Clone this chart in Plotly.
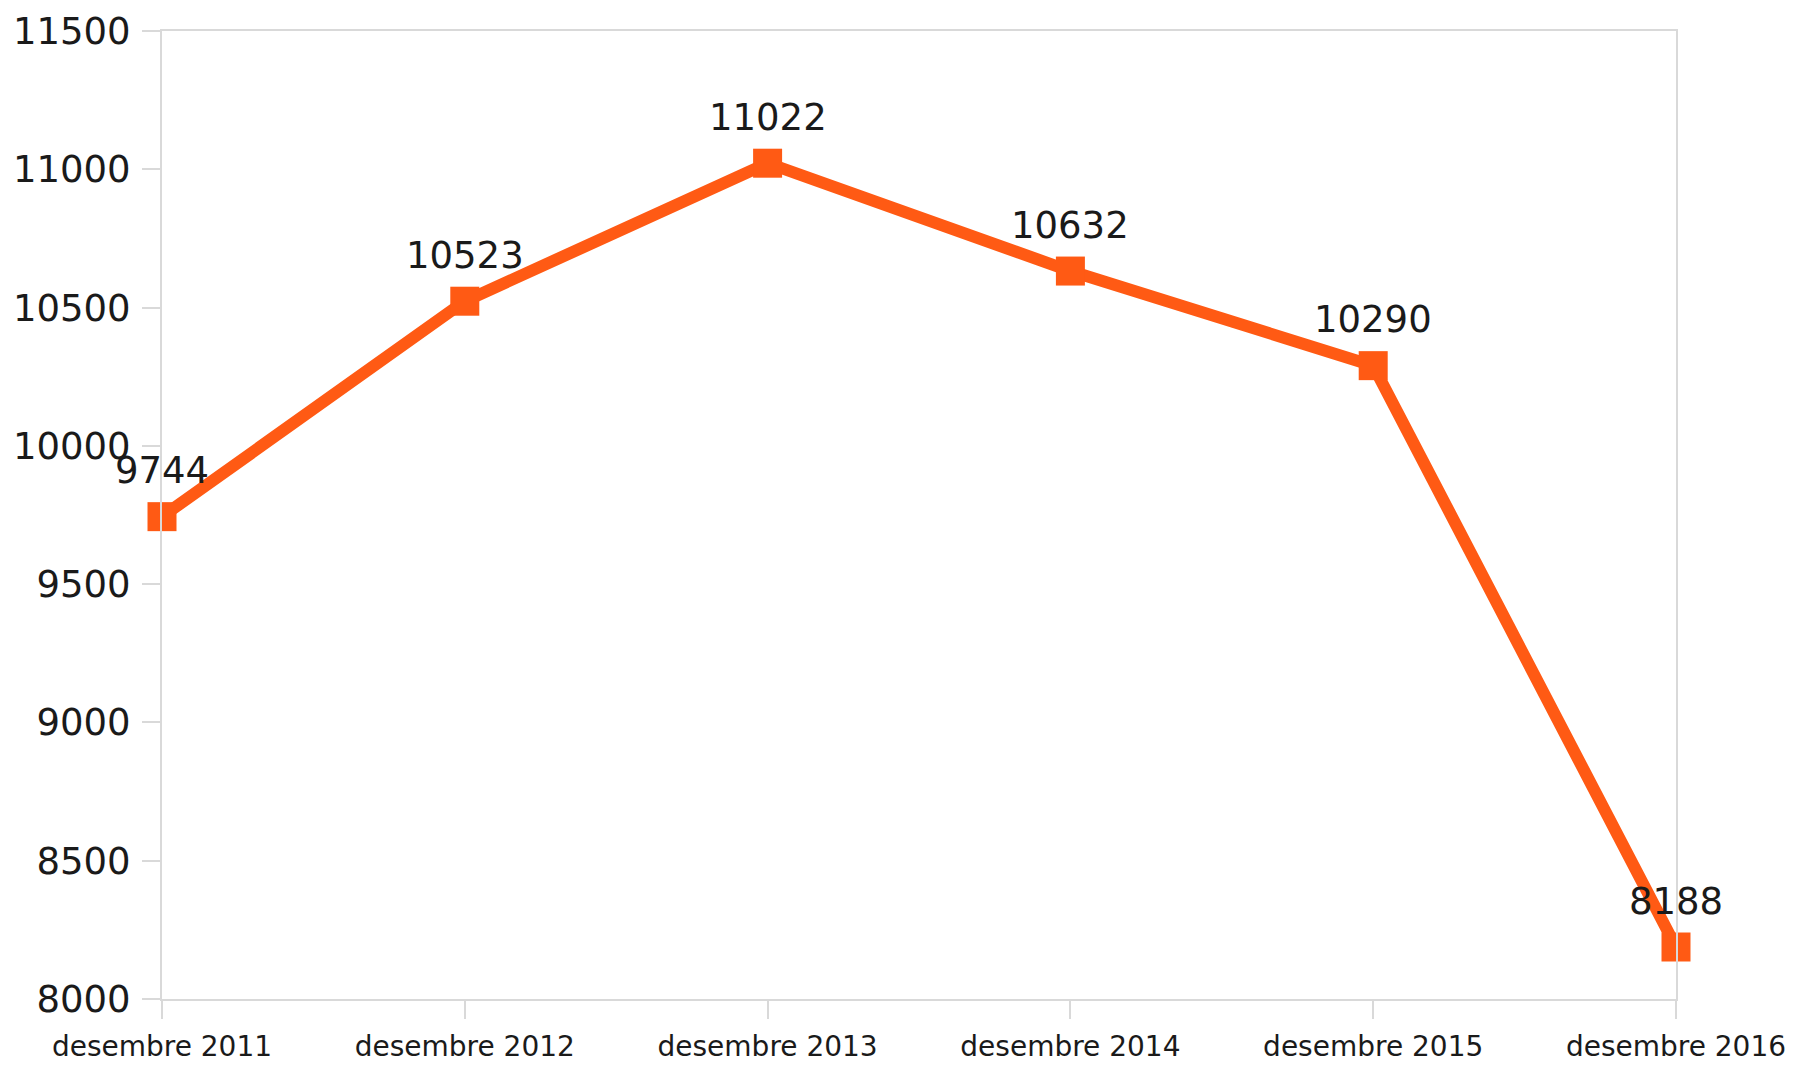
import plotly.graph_objects as go

categories = ["desembre 2011", "desembre 2012", "desembre 2013",
              "desembre 2014", "desembre 2015", "desembre 2016"]
values = [9744, 10523, 11022, 10632, 10290, 8188]
y_ticks = [8000, 8500, 9000, 9500, 10000, 10500, 11000, 11500]

x_pos = list(range(len(categories)))
orange = "#FF5A14"
grid = "#D9D9D9"
txt = "#1A1A1A"
font_family = "DejaVu Sans, Open Sans, sans-serif"

fig = go.Figure()
fig.add_trace(go.Scatter(
    x=x_pos, y=values,
    mode="lines+markers",
    line=dict(color=orange, width=12),
    marker=dict(symbol="square", size=29, color=orange),
    cliponaxis=False,
    hoverinfo="x+y",
))

for xv, v in zip(x_pos, values):
    fig.add_annotation(
        x=xv, y=v, text=str(v), showarrow=False,
        xanchor="center", yanchor="middle", yshift=46,
        font=dict(family=font_family, size=37, color=txt),
    )

fig.update_layout(
    width=1794, height=1074,
    paper_bgcolor="white", plot_bgcolor="white",
    margin=dict(l=154, r=126, t=23, b=83, autoexpand=False),
    showlegend=False,
    font=dict(family=font_family, color=txt),
)
fig.update_xaxes(
    range=[0, len(categories) - 1],
    tickvals=x_pos, ticktext=categories,
    tickfont=dict(family=font_family, size=28, color=txt),
    showgrid=False, zeroline=False,
    showline=True, linecolor=grid, linewidth=2, mirror=True,
    ticks="outside", ticklen=18, tickcolor=grid, tickwidth=2,
    ticklabelstandoff=3,
    ticklabeloverflow="allow",
)
fig.update_yaxes(
    range=[8000, 11500],
    tickvals=y_ticks, ticktext=[str(t) for t in y_ticks],
    tickfont=dict(family=font_family, size=37, color=txt),
    showgrid=False, zeroline=False,
    showline=True, linecolor=grid, linewidth=2, mirror=True,
    ticks="outside", ticklen=18, tickcolor=grid, tickwidth=2,
    ticklabelstandoff=4,
    ticklabeloverflow="allow",
)

fig.write_html("out.html")
